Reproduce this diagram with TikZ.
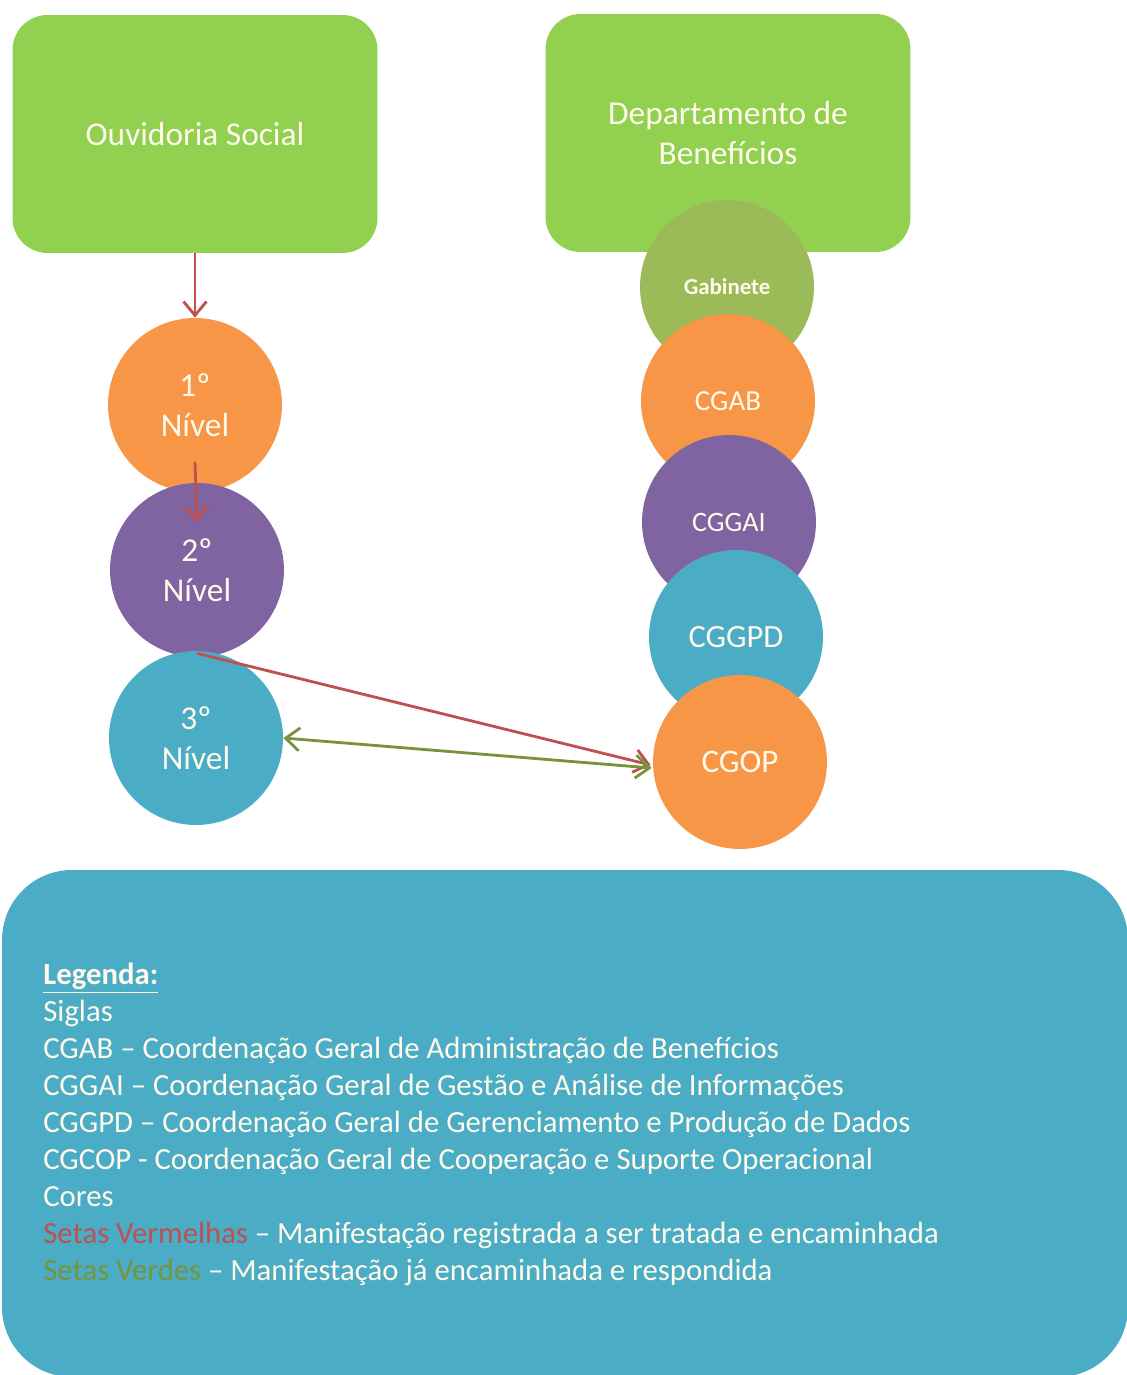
\documentclass[tikz,border=0pt]{standalone}
\usepackage{fontspec}
\setmainfont{Carlito}
\usepackage{tikz}
\usetikzlibrary{arrows.meta,positioning,calc,shapes}
\definecolor{boxgreen}{RGB}{146,208,80}
\definecolor{olivegreen}{RGB}{155,187,89}
\definecolor{orangefill}{RGB}{247,150,70}
\definecolor{purplefill}{RGB}{128,100,162}
\definecolor{tealfill}{RGB}{75,172,198}
\definecolor{arrowred}{RGB}{192,80,77}
\definecolor{arrowgreen}{RGB}{119,147,60}
\definecolor{softwhite}{RGB}{255,250,235}
\tikzset{
  topbox/.style={fill=boxgreen, rounded corners=0.7cm, minimum width=7.3cm,
    minimum height=4.76cm, text=softwhite, align=center, font=\fontsize{19}{22.5}\selectfont},
  bubble/.style={circle, fill=#1, minimum size=3.48cm, inner sep=0pt,
    text=softwhite, align=center},
  redln/.style={-{Straight Barb[length=2.8mm,width=4.6mm]}, line width=1.6pt, arrowred},
  greenln/.style={{Straight Barb[length=2.8mm,width=4.6mm]}-{Straight Barb[length=2.8mm,width=4.6mm]},
    line width=1.6pt, arrowgreen},
}
\begin{document}
\begin{tikzpicture}[x=0.02cm, y=-0.02cm]
    \useasboundingbox (0,0) rectangle (1126,1375);
    % top boxes
    \node[topbox] (ouvid) at (195,134) {Ouvidoria Social};
    \node[topbox] (depto) at (728,133) {Departamento de\\Benefícios};
    % right column
    \node[bubble=olivegreen, font=\bfseries\fontsize{13}{14}\selectfont] (gab) at (727,287) {Gabinete};
    \node[bubble=orangefill, font=\fontsize{16.5}{18}\selectfont] (cgab) at (728,401) {CGAB};
    \node[bubble=purplefill, font=\fontsize{16}{18}\selectfont] (cggai) at (729,522) {CGGAI};
    \node[bubble=tealfill, font=\fontsize{18.5}{20}\selectfont] (cggpd) at (736,637) {CGGPD};
    \node[bubble=orangefill, font=\fontsize{18.7}{20}\selectfont] (cgop) at (740,762) {CGOP};
    % left column
    \node[bubble=orangefill, font=\fontsize{19}{22.7}\selectfont] (nivA) at (195,405) {1º\\Nível};
    \node[bubble=purplefill, font=\fontsize{19}{22.7}\selectfont] (nivB) at (197,570) {2º\\Nível};
    \node[bubble=tealfill, font=\fontsize{19}{22.7}\selectfont] (nivC) at (196,738) {3º\\Nível};
    % connectors
    \draw[redln] (ouvid.south) -- (nivA.north);
    \coordinate (tipB) at ($(nivB.center)+(0,-48)$);
    \draw[redln] ($(nivA.center)+(0,57)$) -- (tipB);
    \draw[redln] ($(nivB.south)+(0,-4)$) -- ($(cgop.west)+(-2,3)$);
    \draw[greenln] (nivC.east) -- ($(cgop.west)+(-1,6)$);
    % legend
    \fill[tealfill, rounded corners=1.4cm] (2,870) rectangle (1128,1377);
    \node[anchor=north west, align=left, text=softwhite, inner sep=0pt,
      font=\fontsize{17.5}{21}\selectfont] (legend) at (43,963) {%
      \textbf{\underline{Legenda:}}\\
      Siglas\\
      CGAB – Coordenação Geral de Administração de Benefícios\\
      CGGAI – Coordenação Geral de Gestão e Análise de  Informações\\
      CGGPD – Coordenação Geral de  Gerenciamento e Produção de Dados\\
      CGCOP -  Coordenação Geral de Cooperação e Suporte Operacional\\
      Cores\\
      \textcolor{arrowred}{Setas Vermelhas} – Manifestação registrada a ser tratada e encaminhada\\
      \textcolor{arrowgreen}{Setas Verdes} – Manifestação já encaminhada e respondida};
\end{tikzpicture}
\end{document}
